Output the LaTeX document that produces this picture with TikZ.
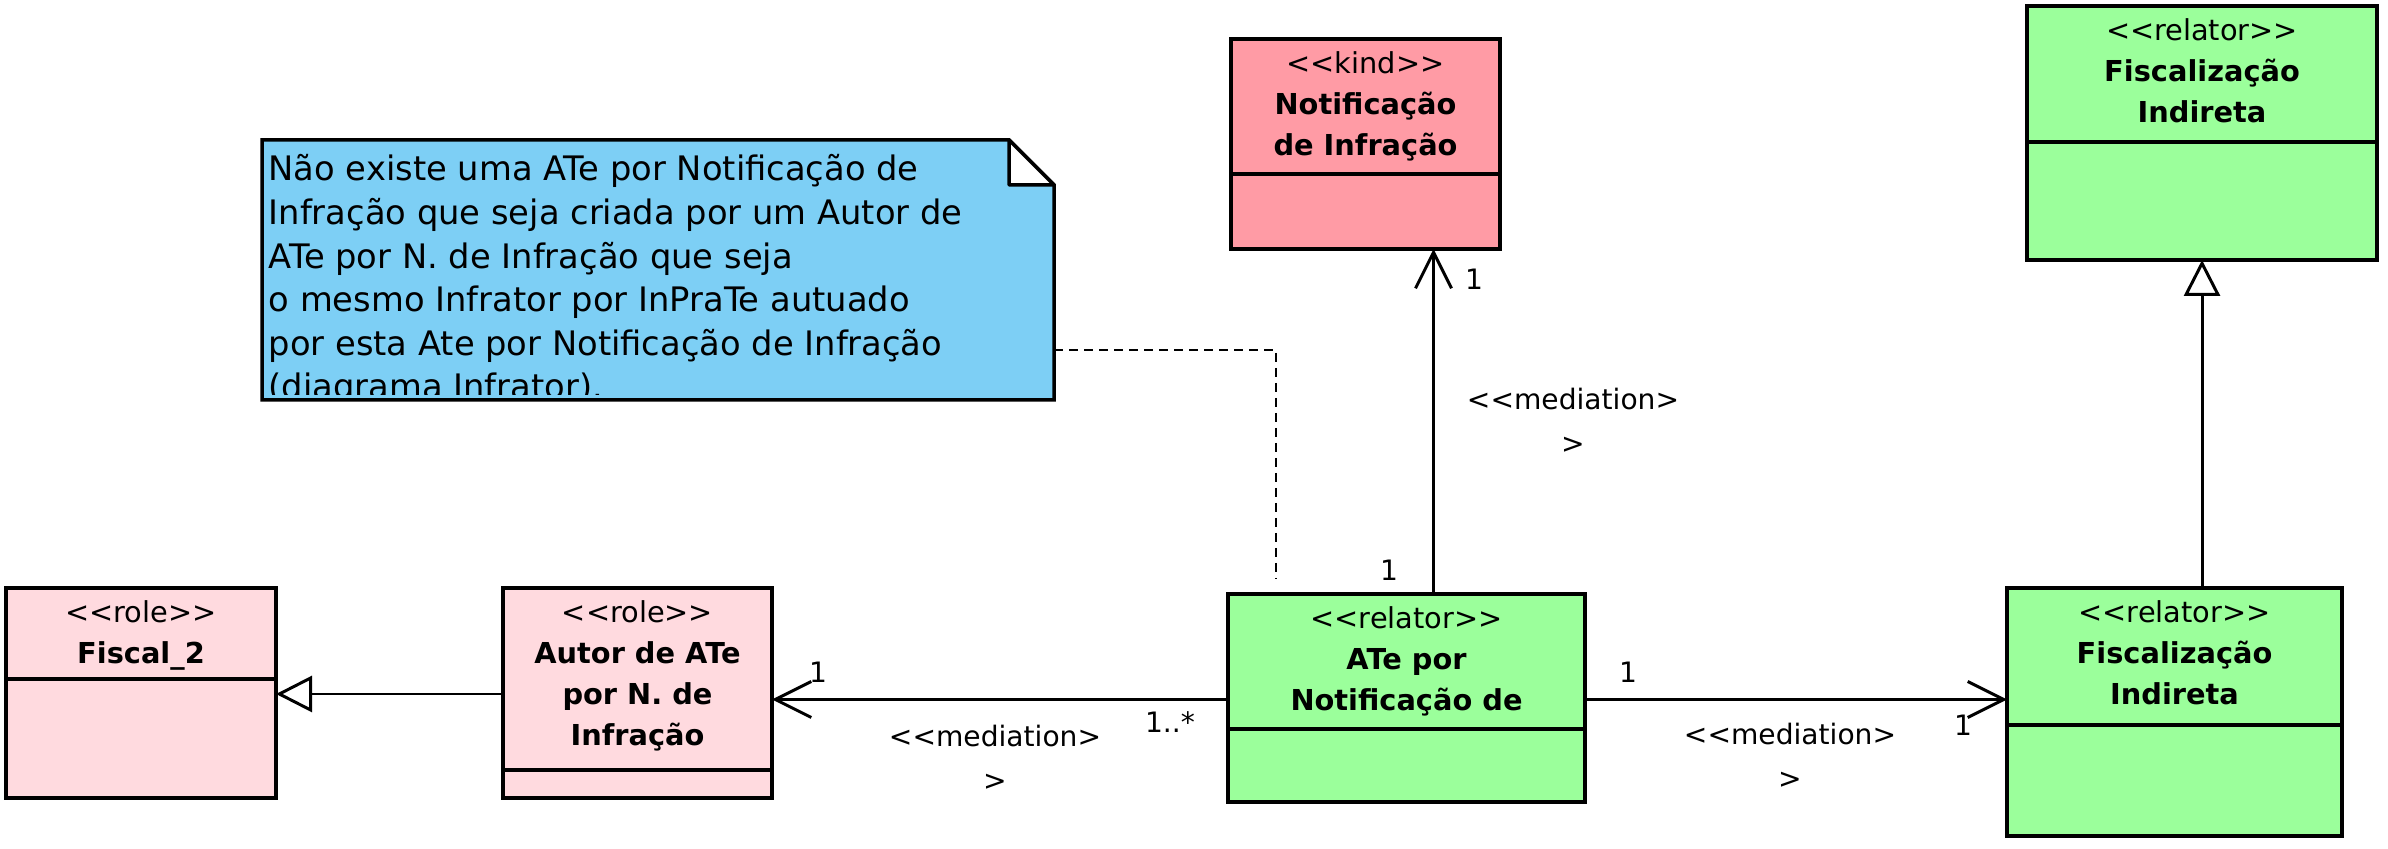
\documentclass[tikz,border=0pt]{standalone}
\usepackage{fontspec}
\setmainfont{DejaVu Sans}
\usetikzlibrary{arrows.meta}
\usepackage{xcolor}

\definecolor{kindpink}{RGB}{255,155,165}
\definecolor{rolepink}{RGB}{255,218,223}
\definecolor{relgreen}{RGB}{155,255,155}
\definecolor{noteblue}{RGB}{125,207,245}
\newcommand{\lt}{\mbox{<}}
\newcommand{\gt}{\mbox{>}}
\newcommand{\stereo}[1]{\lt\lt #1\gt\gt}

\begin{document}
\begin{tikzpicture}[x=0.1mm,y=-0.1mm,
    classhead/.style={shape=rectangle,draw=black,line width=1pt,
      anchor=north west,inner sep=0pt,outer sep=0pt},
    classbody/.style={shape=rectangle,draw=black,line width=1pt,
      anchor=north west,inner sep=0pt,outer sep=0pt},
    classtext/.style={anchor=north,inner sep=0pt,align=center,
      yshift=-1.2mm,font=\fontsize{8.2}{11.7}\selectfont},
    multlabel/.style={inner sep=0pt,align=center,
      font=\fontsize{8}{12.5}\selectfont},
    assoc/.style={line width=0.85pt,
      -{Straight Barb[length=3.6mm,width=3.6mm]}},
    gen/.style={line width=0.85pt,
      -{Triangle[open,length=3.6mm,width=3.6mm,fill=white]}},
    notelink/.style={line width=0.6pt,dash pattern=on 0.9mm off 0.6mm}]
      %\draw[help lines] (0,0) grid (2388,849); % Only for Development
      \useasboundingbox (0,0) rectangle (2388,849);

      % note
      \node[shape=rectangle,
        inner sep=0pt,
        outer sep=0pt,
        minimum width=79.2mm,
        minimum height=26mm] (note) at (658,270) {};
      \draw[fill=noteblue,line width=1pt]
        (note.south west) -- (note.north west) -- ([xshift=-4.5mm]note.north east) --
        ([yshift=-4.5mm]note.north east) -- (note.south east) -- cycle;
      \draw[fill=white,line width=1pt,line join=round]
        ([xshift=-4.5mm]note.north east) -- ([xshift=-4.5mm,yshift=-4.5mm]note.north east) --
        ([yshift=-4.5mm]note.north east) -- cycle;
      \begin{scope}
        \clip ([shift={(0.5mm,-0.5mm)}]note.north west) rectangle ([shift={(-0.5mm,0.5mm)}]note.south east);
        \node[anchor=north west,
          inner sep=0pt,
          align=left,
          font=\fontsize{9.6}{12.4}\selectfont] (notetext) at (268,154)
          {Não existe uma ATe por Notificação de\\
           Infração que seja criada por um Autor de\\
           ATe por N. de Infração que seja\\
           o mesmo Infrator por InPraTe autuado\\
           por esta Ate por Notificação de Infração\\
           (diagrama Infrator).};
      \end{scope}

      % kind
      \node[classhead,fill=kindpink,minimum width=26.9mm,minimum height=13.5mm] (kindH) at (1231,39) {};
      \node[classtext] (kindT) at (kindH.north)
        {\stereo{kind}\\\textbf{Notificação}\\\textbf{de Infração}};
      \node[classbody,fill=kindpink,minimum width=26.9mm,minimum height=7.5mm] (kindB) at (kindH.south west) {};

      % relator, top right
      \node[classhead,fill=relgreen,minimum width=35mm,minimum height=13.6mm] (fitH) at (2027,6) {};
      \node[classtext] (fitT) at (fitH.north)
        {\stereo{relator}\\\textbf{Fiscalização}\\\textbf{Indireta}};
      \node[classbody,fill=relgreen,minimum width=35mm,minimum height=11.8mm] (fitB) at (fitH.south west) {};

      % relator, bottom right
      \node[classhead,fill=relgreen,minimum width=33.5mm,minimum height=13.7mm] (fibH) at (2007,588) {};
      \node[classtext] (fibT) at (fibH.north)
        {\stereo{relator}\\\textbf{Fiscalização}\\\textbf{Indireta}};
      \node[classbody,fill=relgreen,minimum width=33.5mm,minimum height=11.1mm] (fibB) at (fibH.south west) {};

      % relator, middle
      \node[classhead,fill=relgreen,minimum width=35.7mm,minimum height=13.5mm] (ateH) at (1228,594) {};
      \node[classtext] (ateT) at (ateH.north)
        {\stereo{relator}\\\textbf{ATe por}\\\textbf{Notificação de}\\\textbf{Infração}};
      \node[classbody,fill=relgreen,minimum width=35.7mm,minimum height=7.3mm] (ateB) at (ateH.south west) {};

      % roles
      \node[classhead,fill=rolepink,minimum width=26.9mm,minimum height=18.2mm] (autorH) at (503,588) {};
      \node[classtext] (autorT) at (autorH.north)
        {\stereo{role}\\\textbf{Autor de ATe}\\\textbf{por N. de}\\\textbf{Infração}};
      \node[classbody,fill=rolepink,minimum width=26.9mm,minimum height=2.8mm] (autorB) at (autorH.south west) {};

      \node[classhead,fill=rolepink,minimum width=27mm,minimum height=9.1mm] (fiscalH) at (6,588) {};
      \node[classtext] (fiscalT) at (fiscalH.north)
        {\stereo{role}\\\textbf{Fiscal\_2}};
      \node[classbody,fill=rolepink,minimum width=27mm,minimum height=11.9mm] (fiscalB) at (fiscalH.south west) {};

      % connectors
      \draw[notelink] ([yshift=-8mm]note.east) -| ([xshift=4.8mm,yshift=1.5mm]ateH.north west);
      \draw[assoc] ([xshift=2.7mm]ateH.north) -- ([xshift=2.7mm]ateH.north |- kindB.south);
      \draw[assoc] ([yshift=-3.8mm]ateH.west) -- ([yshift=-3.8mm]ateH.west -| autorH.east);
      \draw[assoc] ([yshift=-3.8mm]ateH.east) -- ([yshift=-3.8mm]ateH.east -| fibH.west);
      \draw[gen] ([yshift=-1.5mm]autorH.west) -- ([yshift=-1.5mm]autorH.west -| fiscalH.east);
      \draw[gen] (fitB.south |- fibH.north) -- (fitB.south);

      % labels
      \node[multlabel] (mKind) at (1474,279) {1};
      \node[multlabel] (mAteUp) at (1389,570) {1};
      \node[multlabel] (medUp) at (1573,421) {\lt\lt mediation\gt\\\gt};
      \node[multlabel] (mAutor) at (818,672) {1};
      \node[multlabel] (mAteLeft) at (1170,722) {1..*};
      \node[multlabel] (medLeft) at (995,758) {\lt\lt mediation\gt\\\gt};
      \node[multlabel] (mAteRight) at (1628,672) {1};
      \node[multlabel] (mFib) at (1963,725) {1};
      \node[multlabel] (medRight) at (1790,756) {\lt\lt mediation\gt\\\gt};
\end{tikzpicture}
\end{document}
